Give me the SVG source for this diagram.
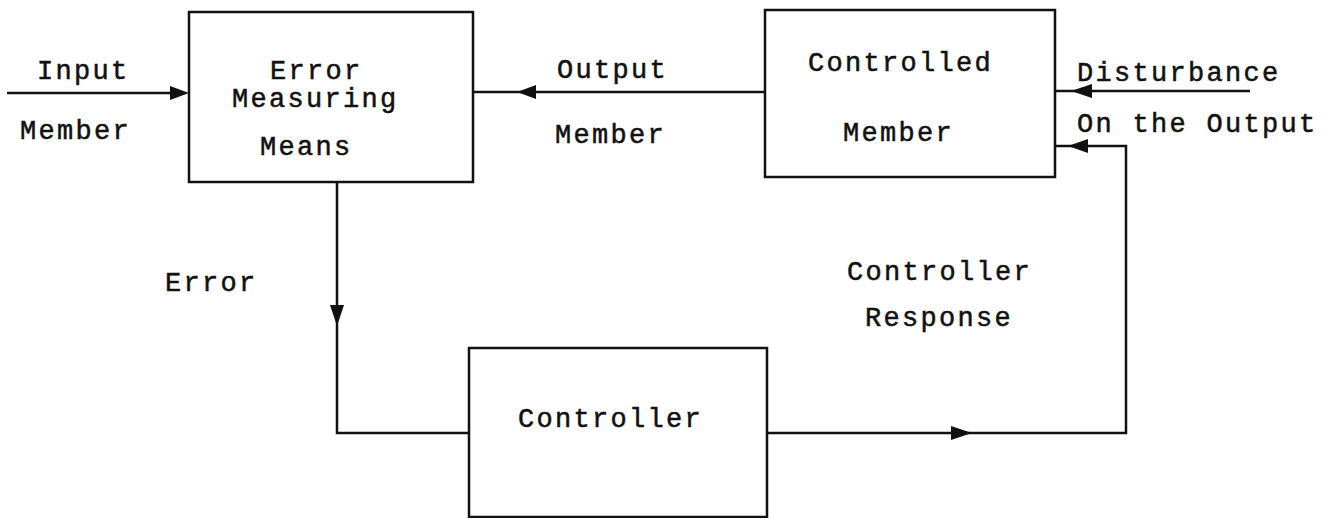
<svg xmlns="http://www.w3.org/2000/svg" width="1327" height="518" viewBox="0 0 1327 518">
<defs>
<style>
.box{fill:#fff;stroke:#111;stroke-width:2.5}
.ln{fill:none;stroke:#111;stroke-width:2.5}
.t{font-family:"Liberation Mono","DejaVu Sans Mono",monospace;font-size:27px;letter-spacing:2.3px;fill:#111;stroke:#111;stroke-width:0.5}
</style>
</defs>
<rect width="1327" height="518" fill="#fff"/>
<g id="connectors">
<line class="ln" x1="7" y1="93" x2="172" y2="93"/>
<path d="M170,86 L189,93 L170,100 Z" fill="#111"/>
<line class="ln" x1="765" y1="92" x2="473" y2="92"/>
<path d="M536,85 L517,92 L536,99 Z" fill="#111"/>
<line class="ln" x1="1250" y1="91" x2="1055" y2="91"/>
<path d="M1092,84 L1071,91 L1092,98 Z" fill="#111"/>
<polyline class="ln" points="337,182 337,433 469,433"/>
<path d="M330,305 L337,326 L344,305 Z" fill="#111"/>
<polyline class="ln" points="767,433 1126,433 1126,146 1055,146"/>
<path d="M951,426 L972,433 L951,440 Z" fill="#111"/>
<path d="M1088,139 L1068,146 L1088,153 Z" fill="#111"/>
</g>
<g id="error-measuring-means">
<rect class="box" x="189" y="12" width="284" height="170"/>
<text class="t" x="270" y="79">Error</text>
<text class="t" x="232" y="107">Measuring</text>
<text class="t" x="260" y="155">Means</text>
</g>
<g id="controlled-member">
<rect class="box" x="765" y="10" width="290" height="167"/>
<text class="t" x="808" y="71">Controlled</text>
<text class="t" x="843" y="141">Member</text>
</g>
<g id="controller">
<rect class="box" x="469" y="348" width="298" height="169"/>
<text class="t" x="518" y="427">Controller</text>
</g>
<g id="labels">
<text class="t" x="37" y="79">Input</text>
<text class="t" x="20" y="139">Member</text>
<text class="t" x="557" y="78">Output</text>
<text class="t" x="555" y="143">Member</text>
<text class="t" x="1077" y="81">Disturbance</text>
<text class="t" x="1077" y="132">On the Output</text>
<text class="t" x="165" y="291">Error</text>
<text class="t" x="847" y="280">Controller</text>
<text class="t" x="865" y="326">Response</text>
</g>
</svg>
